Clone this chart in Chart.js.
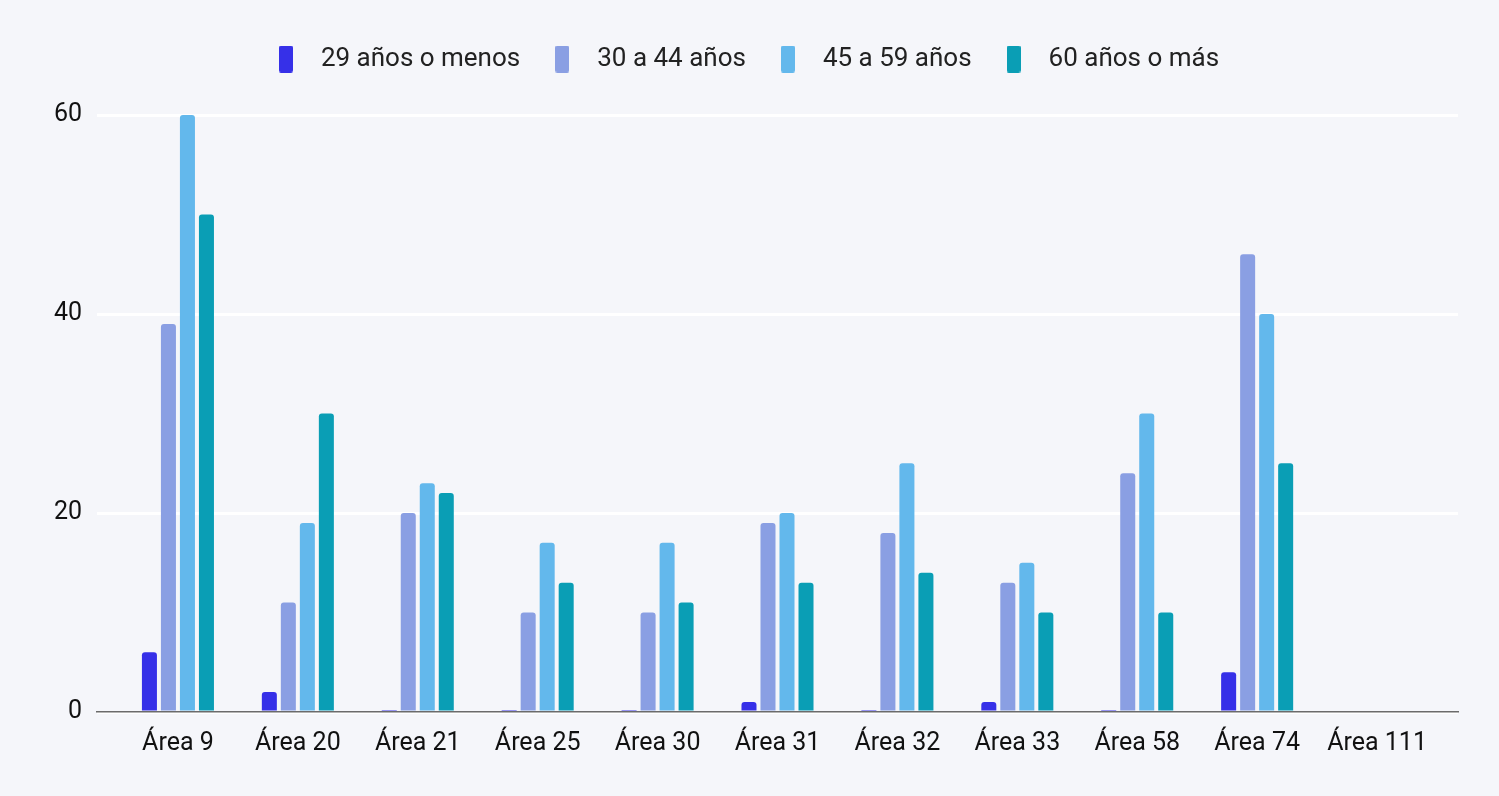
<!DOCTYPE html>
<html>
<head>
<meta charset="utf-8">
<script src="https://cdn.jsdelivr.net/npm/chart.js@4/dist/chart.umd.min.js"></script>
<style>
  html, body { margin: 0; padding: 0; background: #f5f6fa; }
  #wrap { width: 1499px; height: 796px; }
</style>
</head>
<body>
<div id="wrap"><canvas id="grafica"></canvas></div>
<script>
// Datos
var categorias = ['Área 9', 'Área 20', 'Área 21', 'Área 25', 'Área 30', 'Área 31', 'Área 32', 'Área 33', 'Área 58', 'Área 74', 'Área 111'];
var menos29 = [6, 2, 0, 0, 0, 1, 0, 1, 0, 4, null];
var de30a44 = [39, 11, 20, 10, 10, 19, 18, 13, 24, 46, null];
var de45a59 = [60, 19, 23, 17, 17, 20, 25, 15, 30, 40, null];
var mas60 = [50, 30, 22, 13, 11, 13, 14, 10, 10, 25, null];
var ticksY = [0, 20, 40, 60];

var colores = ['#3630e8', '#8a9fe3', '#63b8ec', '#0a9eb5'];

// Escala de categorías con un margen extra a los lados (las líneas de la
// cuadrícula se extienden más allá de la primera y última categoría).
class PaddedCategory extends Chart.CategoryScale {
    buildTicks() {
        var ticks = super.buildTicks();
        var extra = this.options.extraOffset || 0;
        this._startValue -= extra;
        this._valueRange += 2 * extra;
        return ticks;
    }
}
PaddedCategory.id = 'paddedCategory';
PaddedCategory.defaults = Chart.CategoryScale.defaults;
Chart.register(PaddedCategory);

// Cuadros de la leyenda: rectángulos angostos y altos.
function muestra(color) {
    var c = document.createElement('canvas');
    c.width = 14;
    c.height = 27;
    var g = c.getContext('2d');
    g.fillStyle = color;
    g.beginPath();
    g.roundRect(0, 0, 14, 27, 2);
    g.fill();
    return c;
}
var muestras = colores.map(muestra);

function serie(label, values, color, minLen) {
    return {
        label: label,
        data: values,
        backgroundColor: color,
        borderRadius: { topLeft: 3, topRight: 3 },
        borderSkipped: 'bottom',
        minBarLength: minLen || 0,
        barPercentage: 0.79,
        categoryPercentage: 0.634
    };
}

// Separación extra bajo la leyenda
var margenLeyenda = {
    id: 'margenLeyenda',
    beforeInit: function (chart) {
        var fitOriginal = chart.legend.fit;
        chart.legend.fit = function () {
            fitOriginal.bind(chart.legend)();
            this.height += 33;
        };
    }
};

var ctx = document.getElementById('grafica').getContext('2d');
new Chart(ctx, {
    type: 'bar',
    data: {
        labels: categorias,
        datasets: [
            serie('29 años o menos', menos29, colores[0], 1),
            serie('30 a 44 años', de30a44, colores[1]),
            serie('45 a 59 años', de45a59, colores[2]),
            serie('60 años o más', mas60, colores[3])
        ]
    },
    plugins: [margenLeyenda],
    options: {
        responsive: true,
        maintainAspectRatio: false,
        animation: false,
        layout: { padding: { left: 25, right: 41, top: 26, bottom: 20 } },
        plugins: {
            legend: {
                position: 'top',
                labels: {
                    usePointStyle: true,
                    pointStyleWidth: 44,
                    boxHeight: 27,
                    padding: 20,
                    color: '#222',
                    font: { family: 'Roboto', size: 26 },
                    generateLabels: function (chart) {
                        var items = Chart.defaults.plugins.legend.labels.generateLabels(chart);
                        items.forEach(function (it, i) { it.pointStyle = muestras[i]; });
                        return items;
                    }
                }
            },
            tooltip: { enabled: false }
        },
        scales: {
            x: {
                type: 'paddedCategory',
                extraOffset: 0.175,
                grid: { display: false, drawTicks: false },
                border: { display: true, color: '#6b6b6b', width: 1.5 },
                ticks: {
                    color: '#111',
                    padding: 17,
                    font: { family: 'Roboto', size: 25 }
                }
            },
            y: {
                min: 0,
                max: 60,
                afterBuildTicks: function (axis) {
                    axis.ticks = ticksY.map(function (v) { return { value: v }; });
                },
                afterFit: function (axis) {
                    axis.width = 72;
                },
                grid: { color: '#ffffff', lineWidth: 3, drawTicks: false },
                border: { display: false },
                ticks: {
                    color: '#111',
                    padding: 15,
                    font: { family: 'Roboto', size: 25 }
                }
            }
        }
    }
});
</script>
</body>
</html>
